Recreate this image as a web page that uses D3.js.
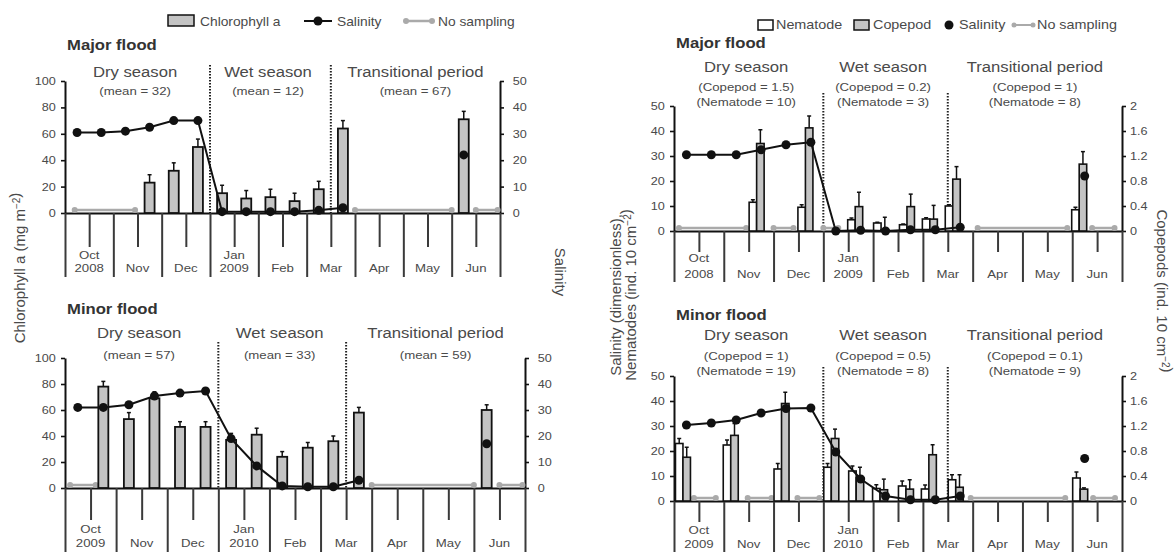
<!DOCTYPE html>
<html>
<head>
<meta charset="utf-8">
<script src="https://cdn.jsdelivr.net/npm/d3@7"></script>
<style>
  body { margin: 0; background: #fff; }
  svg text { font-family: "Liberation Sans", Arial, Helvetica, sans-serif; fill: #4a4a4a; }
</style>
</head>
<body>
<svg id="fig" width="1175" height="554"></svg>
<script>
// time axis: months since 1 October
var months = ["Oct", "Nov", "Dec", "Jan", "Feb", "Mar", "Apr", "May", "Jun"];
var yearsMajor = ["2008", "2009"];   // shown under Oct and Jan
var yearsMinor = ["2009", "2010"];
var seasons = ["Dry season", "Wet season", "Transitional period"];
var dividers = [3, 5.5];

// salinity sampling (all panels)
var salTimes = [0.25, 0.75, 1.25, 1.75, 2.25, 2.75, 3.25, 3.75, 4.25, 4.75, 5.25, 5.75, 8.25];
var salMajorL = [30.5, 30.5, 31, 32.5, 35, 35, 0.5, 0.5, 0.5, 0.5, 1, 2, 22];
var salMinorL = [31, 31, 32, 35.4, 36.5, 37.3, 19, 8.5, 0.8, 0.5, 0.5, 3, 17];
var salMajorR = [30.5, 30.5, 30.5, 32.5, 34.5, 35.5, 0, 0.3, 0, 0.5, 0.5, 1.5, 22];
var salMinorR = [30.4, 31.2, 32.4, 35.2, 37, 37.2, 19.6, 8.8, 2, 0.5, 0.5, 2, 17];

// chlorophyll a (mg m-2)
var chlTimesMajor = [1.75, 2.25, 2.75, 3.25, 3.75, 4.25, 4.75, 5.25, 5.75, 8.25];
var chlMajor = [23, 32, 50, 15, 11, 12, 9, 18, 64, 71];
var chlMajorErr = [6, 6, 6, 6, 6, 6, 6, 6, 6, 6];
var chlTimesMinor = [0.75, 1.25, 1.75, 2.25, 2.75, 3.25, 3.75, 4.25, 4.75, 5.25, 5.75, 8.25];
var chlMinor = [78, 53, 69, 47, 47, 37, 41, 24, 31, 36, 58, 60];
var chlMinorErr = [4, 5, 5, 4, 4, 5, 5, 4, 4, 4, 4, 4];
var chlMeansMajor = [32, 12, 67];
var chlMeansMinor = [57, 33, 59];
var noSampChlMajor = [[0.2, 1.45], [6, 8], [8.5, 8.95]];
var noSampChlMinor = [[0.1, 0.6], [6, 8], [8.5, 8.95]];

// nematodes (ind. 10 cm-2) and copepods (ind. 10 cm-2)
var zooTimesMajor = [1.66, 2.64, 3.64, 4.16, 4.68, 5.14, 5.6, 8.14];
var nemMajor = [11.5, 9.5, 4.5, 3.2, 2.5, 4.8, 10, 8.5];
var nemMajorErr = [1, 1, 0.7, 0.3, 0.3, 0.5, 0.5, 1];
var copMajor = [1.4, 1.65, 0.39, 0.02, 0.39, 0.19, 0.83, 1.07];
var copMajorErr = [0.22, 0.19, 0.23, 0.2, 0.2, 0.22, 0.2, 0.2];
var zooTimesMinor = [0.18, 1.14, 2.16, 3.16, 3.66, 4.14, 4.66, 5.12, 5.66, 8.16];
var nemMinor = [23, 22.4, 12.8, 13.5, 12, 5, 6, 4.8, 8.5, 9.2];
var nemMinorErr = [2, 2, 2.2, 1.5, 2, 1.5, 2, 1.6, 2, 2.4];
var copMinor = [0.7, 1.05, 1.56, 1.0, 0.37, 0.18, 0.19, 0.74, 0.22, 0.19];
var copMinorErr = [0.16, 0.19, 0.18, 0.15, 0.17, 0.17, 0.15, 0.16, 0.2, 0.02];
var copMeansMajor = [1.5, 0.2, 1], nemMeansMajor = [10, 3, 8];
var copMeansMinor = [1, 0.5, 0.1], nemMeansMinor = [19, 8, 9];
var noSampZooMajor = [[0.1, 1.45], [2, 2.4], [3, 3.3], [6.1, 7.9], [8.4, 8.85]];
var noSampZooMinor = [[0.4, 0.84], [1.48, 1.96], [2.48, 2.92], [5.96, 7.86], [8.42, 8.86]];

var S = 1.15;          // the scan is a little wider than tall
var BAR = "#c4c4c4", GAP = "#aaaaaa", INK = "#111";
var seasonAt = [1.45, 4.2, 7.25];

var svg = d3.select("#fig");

function label(g, x, y, s, size, anchor, weight) {
  return g.append("text")
    .attr("transform", "translate(" + x + "," + y + ") scale(" + S + ",1)")
    .attr("text-anchor", anchor || "start")
    .style("font-size", size + "px")
    .style("font-weight", weight || "normal")
    .text(s);
}

function styleAxis(a) {
  a.attr("font-family", null).attr("font-size", null);
  a.select(".domain").attr("stroke", INK).attr("stroke-width", 2);
  a.selectAll(".tick line").attr("stroke", INK).attr("stroke-width", 1.6);
  a.selectAll(".tick text").attr("fill", "#555").style("font-size", "11px")
    .attr("transform", "scale(" + S + ",1)");
}

function frame(p) {
  var g = svg.append("g");
  var x = d3.scaleLinear().domain([0, months.length]).range([p.x0, p.x1]);
  var yL = d3.scaleLinear().domain([0, p.lMax]).range([p.y0, p.yTop]);
  var yR = d3.scaleLinear().domain([0, p.rMax]).range([p.y0, p.yTop]);

  // season dividers
  g.selectAll(null).data(dividers).join("line")
    .attr("x1", d => x(d)).attr("x2", d => x(d))
    .attr("y1", p.divTop).attr("y2", p.y0)
    .attr("stroke", "#222").attr("stroke-width", 2).attr("stroke-dasharray", "1.5,1.5");

  // y axes
  var la = g.append("g").attr("transform", "translate(" + p.x0 + ",0)")
    .call(d3.axisLeft(yL).tickValues(p.lTicks).tickSize(4).tickSizeOuter(0).tickPadding(p.lPad));
  styleAxis(la);
  var ra = g.append("g").attr("transform", "translate(" + p.x1 + ",0)")
    .call(d3.axisRight(yR).tickValues(p.rTicks).tickSize(4).tickSizeOuter(0).tickPadding(p.rPad)
      .tickFormat(d3.format("~g")));
  styleAxis(ra);

  // time axis: month boundaries (long) and mid-month ticks (short)
  var b1 = g.append("g").attr("transform", "translate(0," + p.y0 + ")")
    .call(d3.axisBottom(x).tickValues(d3.range(months.length + 1)).tickSize(p.longT).tickSizeOuter(0).tickFormat(""));
  b1.select(".domain").attr("stroke", INK).attr("stroke-width", 2.2);
  b1.selectAll(".tick line").attr("stroke", "#3a3a3a").attr("stroke-width", 2);
  var b2 = g.append("g").attr("transform", "translate(0," + p.y0 + ")")
    .call(d3.axisBottom(x).tickValues(months.map((m, i) => i + 0.5)).tickSize(p.midT).tickFormat(""));
  b2.select(".domain").remove();
  b2.selectAll(".tick line").attr("stroke", "#3a3a3a").attr("stroke-width", 2);
  months.forEach(function (m, i) {
    var yr = i === 0 ? p.years[0] : (i === 3 ? p.years[1] : null);
    if (yr) {
      label(g, x(i + 0.5), p.y0 + p.lab1, m, 11.5, "middle");
      label(g, x(i + 0.5), p.y0 + p.lab2, yr, 11.5, "middle");
    } else {
      label(g, x(i + 0.5), p.y0 + p.lab2, m, 11.5, "middle");
    }
  });

  // titles
  label(g, p.x0 + 2, p.titleY, p.title, 14.5, "start", "bold").style("fill", "#333");
  seasons.forEach(function (s, i) {
    label(g, x(seasonAt[i]), p.seasonY, s, 14.5, "middle");
    p.subs[i].forEach(function (t, j) {
      label(g, x(seasonAt[i]), p.subY[j], t, 11.5, "middle");
    });
  });

  // no sampling
  var gy = p.y0 - 3;
  g.selectAll(null).data(p.gaps).join("line")
    .attr("x1", d => x(d[0])).attr("x2", d => x(d[1])).attr("y1", gy).attr("y2", gy)
    .attr("stroke", GAP).attr("stroke-width", 2.5);
  g.selectAll(null).data(p.gaps.flat()).join("circle")
    .attr("cx", d => x(d)).attr("cy", gy).attr("r", 3).attr("fill", GAP);

  return { g: g, x: x, yL: yL, yR: yR };
}

function errBars(g, xs, tops, ends) {
  g.selectAll(null).data(xs).join("line")
    .attr("x1", d => d).attr("x2", d => d)
    .attr("y1", (d, i) => tops[i]).attr("y2", (d, i) => ends[i])
    .attr("stroke", INK).attr("stroke-width", 1.5);
  g.selectAll(null).data(xs).join("line")
    .attr("x1", d => d - 2).attr("x2", d => d + 2)
    .attr("y1", (d, i) => ends[i]).attr("y2", (d, i) => ends[i])
    .attr("stroke", INK).attr("stroke-width", 1.5);
}

function salinity(f, vals, scale) {
  var pts = salTimes.map((t, i) => [t, vals[i]]);
  var line = d3.line().x(d => f.x(d[0])).y(d => scale(d[1]));
  f.g.append("path").datum(pts.slice(0, pts.length - 1)).attr("d", line)
    .attr("fill", "none").attr("stroke", INK).attr("stroke-width", 2);
  f.g.selectAll(null).data(pts).join("circle")
    .attr("cx", d => f.x(d[0])).attr("cy", d => scale(d[1])).attr("r", 4.5).attr("fill", INK);
}

function chlPanel(p) {
  var f = frame(p);
  var bw = 10;
  f.g.selectAll(null).data(p.times).join("rect")
    .attr("x", t => f.x(t) - bw / 2).attr("width", bw)
    .attr("y", (t, i) => f.yL(p.chl[i])).attr("height", (t, i) => p.y0 - f.yL(p.chl[i]))
    .attr("fill", BAR).attr("stroke", INK).attr("stroke-width", 1.8);
  errBars(f.g, p.times.map(t => f.x(t)), p.chl.map(v => f.yL(v)),
    p.chl.map((v, i) => f.yL(v + p.err[i])));
  salinity(f, p.sal, f.yR);
}

function zooPanel(p) {
  var f = frame(p);
  var bw = 7.5;
  f.g.selectAll(null).data(p.times).join("rect")
    .attr("x", t => f.x(t) - bw).attr("width", bw)
    .attr("y", (t, i) => f.yL(p.nem[i])).attr("height", (t, i) => p.y0 - f.yL(p.nem[i]))
    .attr("fill", "#fff").attr("stroke", INK).attr("stroke-width", 1.6);
  f.g.selectAll(null).data(p.times).join("rect")
    .attr("x", t => f.x(t)).attr("width", bw)
    .attr("y", (t, i) => f.yR(p.cop[i])).attr("height", (t, i) => p.y0 - f.yR(p.cop[i]))
    .attr("fill", BAR).attr("stroke", INK).attr("stroke-width", 1.6);
  errBars(f.g, p.times.map(t => f.x(t) - bw / 2), p.nem.map(v => f.yL(v)),
    p.nem.map((v, i) => f.yL(v + p.nemErr[i])));
  errBars(f.g, p.times.map(t => f.x(t) + bw / 2), p.cop.map(v => f.yR(v)),
    p.cop.map((v, i) => f.yR(v + p.copErr[i])));
  salinity(f, p.sal, f.yL);
}

var chlTicks = [0, 20, 40, 60, 80, 100], salTicks = [0, 10, 20, 30, 40, 50];
var copTicks = [0, 0.4, 0.8, 1.2, 1.6, 2];

chlPanel({ x0: 65, x1: 500, y0: 213, yTop: 81, lMax: 100, rMax: 50, lTicks: chlTicks, rTicks: salTicks,
  lPad: 4, rPad: 7, longT: 64, midT: 34, lab1: 46, lab2: 59, years: yearsMajor,
  title: "Major flood", titleY: 50, seasonY: 77, subY: [95], divTop: 65,
  subs: chlMeansMajor.map(m => ["(mean = " + m + ")"]), gaps: noSampChlMajor,
  times: chlTimesMajor, chl: chlMajor, err: chlMajorErr, sal: salMajorL });

chlPanel({ x0: 65, x1: 525, y0: 488, yTop: 358, lMax: 100, rMax: 50, lTicks: chlTicks, rTicks: salTicks,
  lPad: 4, rPad: 7, longT: 64, midT: 32, lab1: 45, lab2: 59, years: yearsMinor,
  title: "Minor flood", titleY: 314, seasonY: 338, subY: [359], divTop: 342,
  subs: chlMeansMinor.map(m => ["(mean = " + m + ")"]), gaps: noSampChlMinor,
  times: chlTimesMinor, chl: chlMinor, err: chlMinorErr, sal: salMinorL });

zooPanel({ x0: 674, x1: 1122, y0: 231, yTop: 106, lMax: 50, rMax: 2, lTicks: salTicks, rTicks: copTicks,
  lPad: 4, rPad: 3, longT: 51, midT: 21, lab1: 31, lab2: 47, years: yearsMajor,
  title: "Major flood", titleY: 48, seasonY: 72, subY: [91, 106], divTop: 93,
  subs: copMeansMajor.map((c, i) => ["(Copepod = " + c + ")", "(Nematode = " + nemMeansMajor[i] + ")"]),
  gaps: noSampZooMajor, times: zooTimesMajor, nem: nemMajor, nemErr: nemMajorErr,
  cop: copMajor, copErr: copMajorErr, sal: salMajorR });

zooPanel({ x0: 674, x1: 1122, y0: 501, yTop: 376, lMax: 50, rMax: 2, lTicks: salTicks, rTicks: copTicks,
  lPad: 4, rPad: 3, longT: 51, midT: 21, lab1: 33, lab2: 47, years: yearsMinor,
  title: "Minor flood", titleY: 320, seasonY: 340, subY: [360, 375], divTop: 367,
  subs: copMeansMinor.map((c, i) => ["(Copepod = " + c + ")", "(Nematode = " + nemMeansMinor[i] + ")"]),
  gaps: noSampZooMinor, times: zooTimesMinor, nem: nemMinor, nemErr: nemMinorErr,
  cop: copMinor, copErr: copMinorErr, sal: salMinorR });

// axis titles
function vtitle(x, y, rot, parts) {
  var t = svg.append("text").attr("transform", "translate(" + x + "," + y + ") rotate(" + rot + ")")
    .attr("text-anchor", "middle").style("font-size", "15px");
  parts.forEach(function (s) {
    if (s === "-2") {
      t.append("tspan").attr("dy", -5).style("font-size", "10px").text("\u22122");
      t.append("tspan").attr("dy", 5).text("");
    } else {
      t.append("tspan").text(s);
    }
  });
}
vtitle(25, 268, -90, ["Chlorophyll a (mg m", "-2", ")"]);
vtitle(555, 272, 90, ["Salinity"]);
vtitle(621, 295, -90, ["Salinity (dimensionless),"]);
vtitle(636, 295, -90, ["Nematodes (ind. 10 cm", "-2", ")"]);
vtitle(1157, 291, 90, ["Copepods (ind. 10 cm", "-2", ")"]);

// legends
var lg = svg.append("g");
lg.append("rect").attr("x", 168).attr("y", 15).attr("width", 26).attr("height", 11)
  .attr("fill", BAR).attr("stroke", INK).attr("stroke-width", 1.5);
label(lg, 200, 26, "Chlorophyll a", 12);
lg.append("line").attr("x1", 304).attr("x2", 332).attr("y1", 21).attr("y2", 21).attr("stroke", INK).attr("stroke-width", 2);
lg.append("circle").attr("cx", 318).attr("cy", 21).attr("r", 4.5).attr("fill", INK);
label(lg, 337, 26, "Salinity", 12);
lg.append("line").attr("x1", 406).attr("x2", 432).attr("y1", 21).attr("y2", 21).attr("stroke", GAP).attr("stroke-width", 2.5);
lg.selectAll(null).data([406, 432]).join("circle").attr("cx", d => d).attr("cy", 21).attr("r", 3).attr("fill", GAP);
label(lg, 438, 26, "No sampling", 12);

var rg = svg.append("g");
rg.append("rect").attr("x", 758).attr("y", 20).attr("width", 15).attr("height", 10)
  .attr("fill", "#fff").attr("stroke", INK).attr("stroke-width", 1.5);
label(rg, 776, 29, "Nematode", 12.5);
rg.append("rect").attr("x", 854).attr("y", 20).attr("width", 15).attr("height", 10)
  .attr("fill", BAR).attr("stroke", INK).attr("stroke-width", 1.5);
label(rg, 873, 29, "Copepod", 12.5);
rg.append("circle").attr("cx", 949).attr("cy", 25).attr("r", 4.5).attr("fill", INK);
label(rg, 959, 29, "Salinity", 12.5);
rg.append("line").attr("x1", 1014).attr("x2", 1033).attr("y1", 25).attr("y2", 25).attr("stroke", GAP).attr("stroke-width", 2);
rg.selectAll(null).data([1014, 1033]).join("circle").attr("cx", d => d).attr("cy", 25).attr("r", 2.5).attr("fill", GAP);
label(rg, 1037, 29, "No sampling", 12.5);
</script>
</body>
</html>
